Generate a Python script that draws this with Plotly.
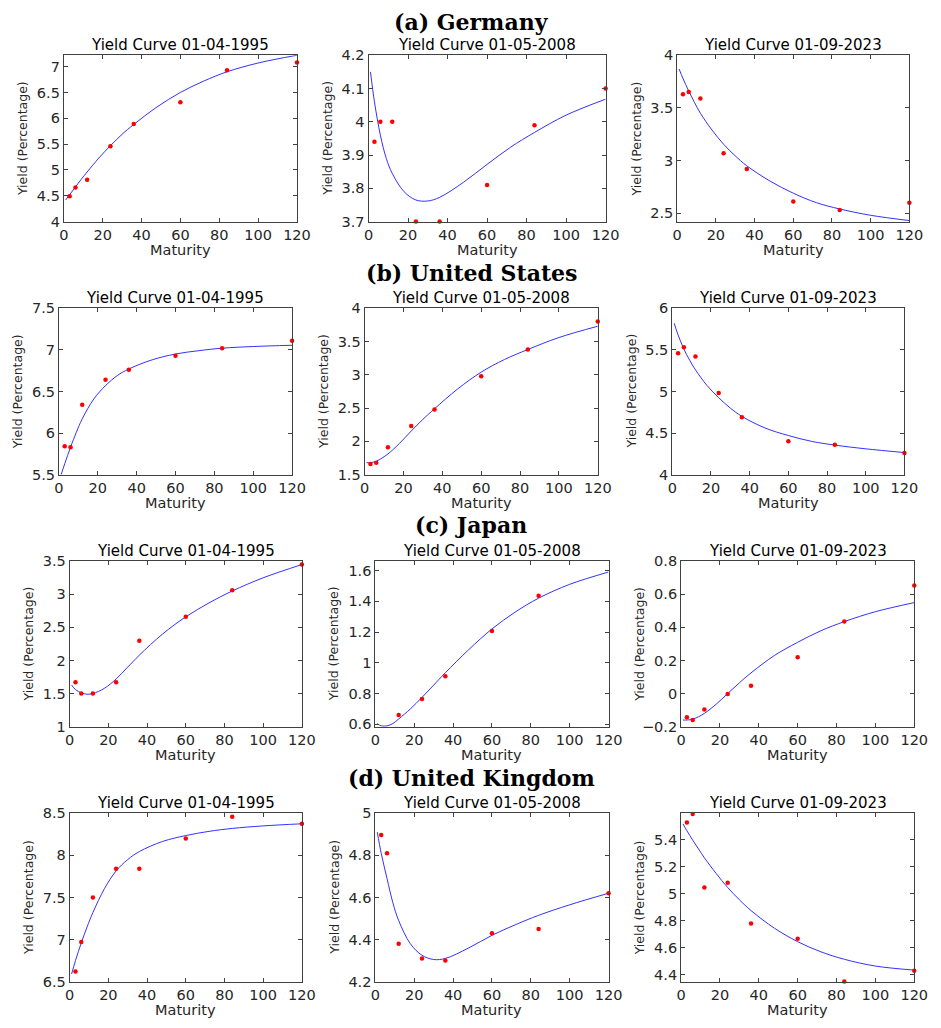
import plotly.graph_objects as go

W, H = 941, 1028

# ---------------- data ----------------
maturities = [3, 6, 12, 24, 36, 60, 84, 120]
fit_maturities = [1, 3, 6, 9, 12, 18, 24, 30, 36, 48, 60, 72, 84, 100, 120]

row_titles = ["(a) Germany", "(b) United States", "(c) Japan", "(d) United Kingdom"]
dates = ["01-04-1995", "01-05-2008", "01-09-2023"]

# observed yields
de_1995 = [4.49, 4.66, 4.81, 5.46, 5.89, 6.31, 6.93, 7.08]
de_2008 = [3.94, 4.00, 4.00, 3.70, 3.70, 3.81, 3.99, 4.10]
de_2023 = [3.63, 3.65, 3.59, 3.07, 2.92, 2.61, 2.53, 2.60]
us_1995 = [5.84, 5.83, 6.34, 6.64, 6.76, 6.93, 7.02, 7.11]
us_2008 = [1.66, 1.68, 1.91, 2.23, 2.48, 2.98, 3.38, 3.80]
us_2023 = [5.46, 5.53, 5.42, 4.98, 4.69, 4.40, 4.36, 4.26]
jp_1995 = [1.67, 1.50, 1.50, 1.67, 2.30, 2.66, 3.06, 3.45]
jp_2008 = [0.583, 0.583, 0.66, 0.764, 0.913, 1.206, 1.436, 1.664]
jp_2023 = [-0.144, -0.16, -0.097, -0.002, 0.047, 0.22, 0.435, 0.653]
uk_1995 = [6.62, 6.97, 7.50, 7.84, 7.84, 8.20, 8.46, 8.375]
uk_2008 = [4.897, 4.81, 4.38, 4.31, 4.30, 4.43, 4.45, 4.62]
uk_2023 = [5.526, 5.589, 5.046, 5.08, 4.78, 4.666, 4.35, 4.43]

# fitted curves
de_1995_fit = [4.42, 4.52, 4.67, 4.82, 4.96, 5.23, 5.47, 5.69, 5.88, 6.22, 6.50, 6.72, 6.90, 7.07, 7.22]
de_2008_fit = [4.15, 4.06, 3.96, 3.89, 3.845, 3.79, 3.765, 3.762, 3.773, 3.818, 3.872, 3.924, 3.968, 4.02, 4.068]
de_2023_fit = [3.87, 3.78, 3.66, 3.55, 3.45, 3.29, 3.155, 3.045, 2.95, 2.805, 2.69, 2.60, 2.54, 2.48, 2.43]
us_1995_fit = [5.49, 5.63, 5.83, 6.01, 6.17, 6.41, 6.57, 6.69, 6.77, 6.88, 6.95, 6.99, 7.02, 7.04, 7.055]
us_2008_fit = [1.68, 1.68, 1.70, 1.75, 1.81, 1.97, 2.155, 2.33, 2.49, 2.79, 3.04, 3.23, 3.38, 3.56, 3.73]
us_2023_fit = [5.82, 5.68, 5.51, 5.375, 5.26, 5.07, 4.925, 4.80, 4.70, 4.56, 4.47, 4.40, 4.355, 4.31, 4.265]
jp_1995_fit = [1.63, 1.56, 1.51, 1.49, 1.50, 1.58, 1.72, 1.90, 2.08, 2.40, 2.66, 2.87, 3.05, 3.25, 3.45]
jp_2008_fit = [0.605, 0.59, 0.59, 0.605, 0.635, 0.70, 0.775, 0.855, 0.935, 1.085, 1.22, 1.33, 1.42, 1.51, 1.59]
jp_2023_fit = [-0.16, -0.16, -0.155, -0.14, -0.12, -0.065, 0.0, 0.065, 0.125, 0.23, 0.31, 0.38, 0.435, 0.495, 0.55]
uk_1995_fit = [6.59, 6.75, 6.96, 7.15, 7.32, 7.605, 7.815, 7.95, 8.045, 8.165, 8.235, 8.285, 8.32, 8.35, 8.375]
uk_2008_fit = [4.91, 4.81, 4.69, 4.575, 4.49, 4.38, 4.325, 4.305, 4.31, 4.36, 4.42, 4.47, 4.515, 4.565, 4.62]
uk_2023_fit = [5.515, 5.465, 5.395, 5.33, 5.265, 5.15, 5.045, 4.955, 4.875, 4.745, 4.645, 4.57, 4.515, 4.465, 4.435]

observed = [[de_1995, de_2008, de_2023], [us_1995, us_2008, us_2023],
            [jp_1995, jp_2008, jp_2023], [uk_1995, uk_2008, uk_2023]]
fitted = [[de_1995_fit, de_2008_fit, de_2023_fit], [us_1995_fit, us_2008_fit, us_2023_fit],
          [jp_1995_fit, jp_2008_fit, jp_2023_fit], [uk_1995_fit, uk_2008_fit, uk_2023_fit]]

# y-axis ranges and tick steps
y_ranges = [[[4, 7.22], [3.7, 4.2], [2.42, 4.0]],
            [[5.5, 7.5], [1.5, 4.0], [4.0, 6.0]],
            [[1, 3.5], [0.585, 1.66], [-0.2, 0.8]],
            [[6.5, 8.5], [4.2, 5.0], [4.35, 5.594]]]
y_dticks = [[0.5, 0.1, 0.5], [0.5, 0.5, 0.5], [0.5, 0.2, 0.2], [0.5, 0.2, 0.2]]
y_tick0 = [[4, 3.7, 2.5], [5.5, 1.5, 4], [1, 0.6, -0.2], [6.5, 4.2, 4.4]]

# ---------------- layout geometry (pixels) ----------------
col_px = [[(60, 298), (371, 613), (686, 923)],
          [(55, 293), (367, 605), (681, 918)],
          [(66, 303), (378, 616), (690, 928)],
          [(66, 303), (378, 616), (690, 928)]]
row_px = [(48, 217), (305, 474), (562, 730), (818, 989)]
row_title_y = [14, 269, 525, 782]


def px_x(v):
    return v / W


def px_y(v):
    return 1 - v / H


fig = go.Figure()
axis_color = "#404040"
text_color = "#262626"
annotations = []

for r in range(4):
    for c in range(3):
        k = r * 3 + c + 1
        xa = "x" if k == 1 else f"x{k}"
        ya = "y" if k == 1 else f"y{k}"
        fig.add_trace(go.Scatter(
            x=fit_maturities, y=fitted[r][c], mode="lines",
            line=dict(color="rgb(50,50,255)", width=1, shape="spline", smoothing=1.0),
            xaxis=xa, yaxis=ya, showlegend=False, hoverinfo="skip"))
        fig.add_trace(go.Scatter(
            x=maturities, y=observed[r][c], mode="markers",
            marker=dict(color="red", size=4.5), cliponaxis=False,
            xaxis=xa, yaxis=ya, showlegend=False))
        x0, x1 = col_px[r][c]
        top, bot = row_px[r]
        common = dict(showgrid=False, zeroline=False, showline=True, linecolor=axis_color,
                      linewidth=1, mirror="ticks", ticks="inside", ticklen=4,
                      tickcolor=axis_color, tickfont=dict(family="DejaVu Sans", size=14.5, color=text_color))
        fig.update_layout(**{
            ("xaxis" if k == 1 else f"xaxis{k}"): dict(
                domain=[px_x(x0), px_x(x1)], range=[0, 120], tick0=0, dtick=20,
                anchor=ya, **common),
            ("yaxis" if k == 1 else f"yaxis{k}"): dict(
                domain=[px_y(bot), px_y(top)], range=y_ranges[r][c],
                tick0=y_tick0[r][c], dtick=y_dticks[r][c], anchor=xa, **common),
        })
        # subplot title
        annotations.append(dict(
            text=f"Yield Curve {dates[c]}", x=px_x((x0 + x1) / 2), y=px_y(top - 10),
            xref="paper", yref="paper", showarrow=False, xanchor="center", yanchor="middle",
            font=dict(family="DejaVu Sans", size=15, color="black")))
        # x axis title
        annotations.append(dict(
            text="Maturity", x=px_x((x0 + x1) / 2), y=px_y(bot + 29),
            xref="paper", yref="paper", showarrow=False, xanchor="center", yanchor="middle",
            font=dict(family="DejaVu Sans", size=14.5, color=text_color)))
        # y axis title
        annotations.append(dict(
            text="Yield (Percentage)", x=px_x(x0 - 42), y=px_y((top + bot) / 2),
            xref="paper", yref="paper", showarrow=False, xanchor="center", yanchor="middle",
            textangle=-90, font=dict(family="DejaVu Sans", size=12.5, color=text_color)))
    annotations.append(dict(
        text=f"<b>{row_titles[r]}</b>", x=px_x(476), y=px_y(row_title_y[r]),
        xref="paper", yref="paper", showarrow=False, xanchor="center", yanchor="middle",
        font=dict(family="DejaVu Serif", size=22, color="black")))

fig.update_layout(
    width=W, height=H, margin=dict(l=0, r=0, t=0, b=0),
    paper_bgcolor="white", plot_bgcolor="white",
    annotations=annotations, showlegend=False)

fig.write_html("out.html")
